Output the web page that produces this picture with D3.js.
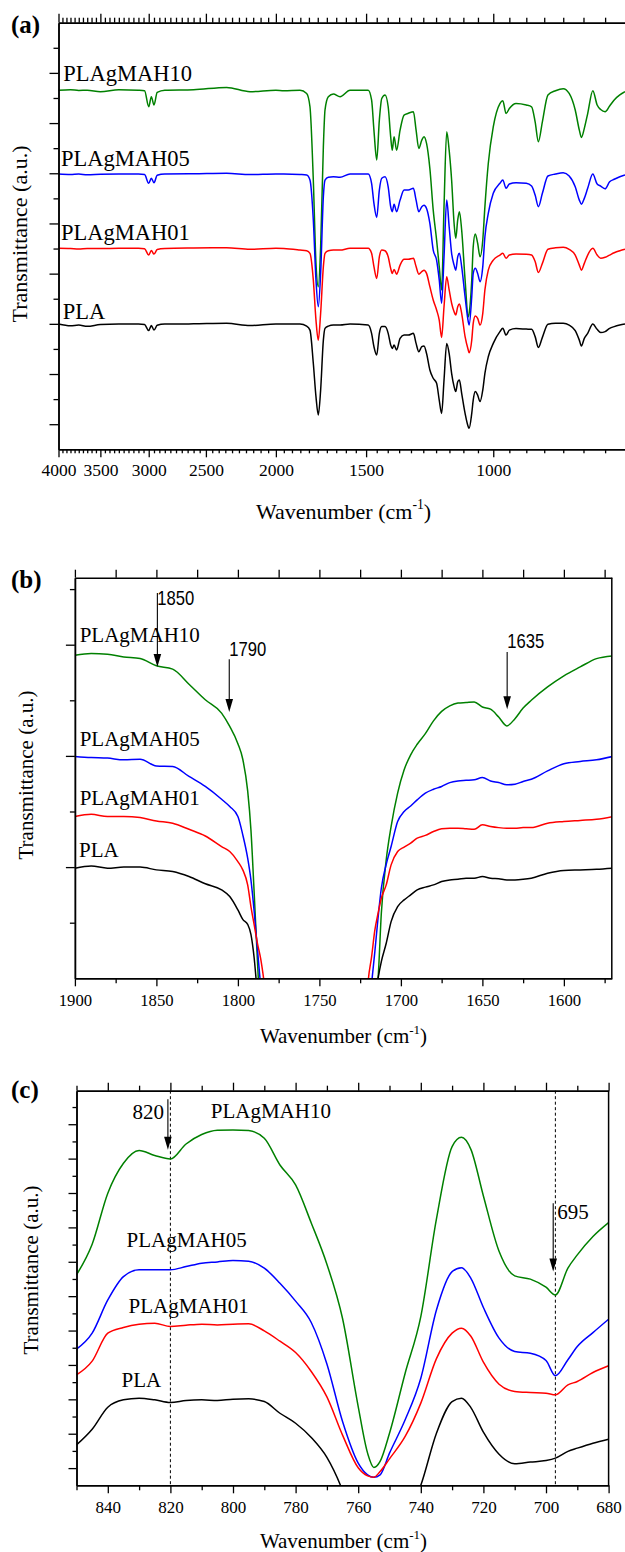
<!DOCTYPE html>
<html><head><meta charset="utf-8">
<script src="https://cdn.jsdelivr.net/npm/d3@7"></script>
<style>body{margin:0;background:#fff} svg{display:block}</style>
</head><body>
<svg id="chart" width="625" height="1552"></svg>
<script>
// ---------------- DATA ----------------
const seriesNames = ["PLAgMAH10", "PLAgMAH05", "PLAgMAH01", "PLA"];
const seriesColors = ["#008000", "#0000ff", "#ff0000", "#000000"];

// Panel (a): full spectrum
const aWavenumber = [4000,3850,3750,3650,3500,3300,3100,3040,3000,2975,2950,2920,2850,2600,2340,2172,2000,1950,
  1852,1813,1794,1775,1760,1747,1734,1719,1710,1692,1665,1630,1579,
  1490,1474,1463,1450,1438,1427,1412,1398,1387,1380,1372,1361,1346,
  1329,1311,1290,1279,1268,1256,1247,1237,1224,1211,1198,1188,1179,1170,1160,1151,1142,1133,1127,1120,1114,1106,1094,1083,1080,1071,1066,1059,1051,1043,1034,1027,1016,1000,979,
  970,960,950,930,900,885,875,866,855,840,820,800,785,770,760,755,748,740,728,718,710,700,690,680,668,657];
const aMAH10 = [14.31,14.33,14.30,14.31,14.25,14.33,14.31,14.29,13.65,14.05,13.72,14.22,14.31,14.33,14.42,14.25,14.31,14.29,
  14.31,14.18,13.65,10.73,7.41,6.48,8.07,12.06,13.52,14.05,14.16,14.05,14.31,
  14.31,13.92,12.72,11.53,13.12,13.98,14.12,13.65,12.46,11.92,12.46,11.92,12.72,
  13.32,13.39,13.45,12.72,11.99,12.32,12.46,12.19,11.19,9.53,8.34,7.28,6.35,9.67,12.65,11.92,10.73,9.00,8.41,9.14,9.47,8.74,6.75,5.28,5.42,6.75,8.07,8.58,8.21,7.67,8.34,9.67,11.39,12.85,13.78,
  13.89,13.38,13.58,13.78,13.72,13.65,13.05,12.26,13.05,14.12,14.29,14.37,14.18,13.52,12.72,12.43,12.79,13.38,14.29,13.72,13.54,13.45,13.68,13.92,14.12,14.25];
const aMAH05 = [10.97,10.95,10.97,10.94,10.96,10.97,10.97,10.95,10.60,10.80,10.62,10.92,10.97,10.98,11.00,10.95,10.97,10.97,
  10.95,10.93,10.73,9.14,6.75,5.68,7.01,10.07,10.73,10.84,10.86,10.84,10.97,
  10.97,10.60,9.80,9.24,10.33,10.80,10.86,10.46,9.67,9.47,9.77,9.47,9.93,
  10.33,10.33,10.40,9.93,9.47,9.67,9.73,9.60,9.00,7.94,7.54,6.75,5.82,7.67,9.93,8.87,7.81,7.34,7.14,7.67,7.81,7.28,6.08,5.09,4.95,6.08,7.01,7.21,7.01,6.68,7.28,8.47,9.40,10.20,10.60,
  10.73,10.40,10.57,10.62,10.60,10.49,10.13,9.67,10.20,10.89,10.97,11.02,10.89,10.46,9.93,9.77,10.00,10.40,10.97,10.57,10.49,10.38,10.66,10.76,10.86,10.93];
const aMAH01 = [8.01,8.00,7.98,8.00,8.00,8.01,8.01,7.99,7.74,7.92,7.78,7.96,8.00,8.02,8.03,7.97,8.01,8.00,
  7.94,7.91,7.81,6.75,5.15,4.35,5.42,7.28,7.81,7.91,7.94,7.94,8.01,
  8.01,7.81,7.28,6.81,7.67,7.94,7.91,7.67,7.21,7.01,7.17,6.98,7.34,
  7.57,7.57,7.61,7.28,6.98,7.08,7.14,7.01,6.48,5.95,5.55,5.15,4.46,5.68,6.88,6.35,5.82,5.48,5.35,5.68,5.79,5.42,4.49,3.96,3.85,4.35,5.02,5.31,5.22,4.95,5.42,6.35,7.14,7.54,7.74,
  7.81,7.61,7.74,7.78,7.77,7.74,7.48,7.05,7.41,7.97,8.03,8.05,7.97,7.74,7.34,7.14,7.41,7.74,8.01,7.74,7.61,7.65,7.74,7.83,7.91,7.97];
const aPLA = [4.99,4.92,4.95,4.90,4.97,4.99,4.99,4.97,4.73,4.93,4.75,4.94,4.99,5.00,5.02,4.93,4.99,4.99,
  4.99,4.91,4.75,3.43,2.10,1.37,2.36,4.35,4.82,4.91,4.95,4.95,4.99,
  4.95,4.62,4.09,3.76,4.62,4.89,4.89,4.62,4.16,4.02,4.16,3.96,4.42,
  4.55,4.55,4.62,4.22,3.89,4.09,4.12,3.82,3.16,2.83,2.63,1.96,1.43,2.76,4.22,3.82,3.03,2.50,2.30,2.69,2.76,2.23,1.43,0.90,0.84,1.43,1.96,2.30,2.16,1.90,2.36,3.03,3.69,4.22,4.69,
  4.82,4.55,4.75,4.81,4.79,4.78,4.49,4.06,4.46,4.98,5.02,5.02,4.95,4.73,4.35,4.12,4.42,4.62,4.99,4.78,4.65,4.69,4.82,4.89,4.95,4.99];
const aXTickLabels = [4000, 3500, 3000, 2500, 2000, 1500, 1000];

// Panel (b): carbonyl region
const bWavenumber = [1900,1890,1880,1870,1860,1850,1840,1830,1820,1810,1805,1800,1797,1794,1792,1790,1788,1786,1784,1775,1750,1725,
  1720,1718,1716,1714,1712,1709,1706,1702,1698,1694,1690,1685,1680,1675,1670,1665,1660,1655,1650,1645,1640,1635,1630,1625,1620,1610,1600,1590,1580,1570];
const bMAH10 = [5.81,5.84,5.83,5.78,5.75,5.62,5.56,5.29,5.01,4.77,4.53,4.22,3.94,3.37,2.67,1.53,0.31,-0.87,-2.0,-4,-6,-3,
  -1.5,-1.0,-0.4,0.0,1.17,2.13,2.73,3.33,3.75,4.02,4.21,4.40,4.63,4.80,4.90,4.95,4.96,4.97,4.88,4.84,4.70,4.54,4.67,4.86,5.00,5.24,5.44,5.60,5.75,5.80];
const bMAH05 = [3.99,3.97,3.96,3.93,3.94,3.82,3.81,3.63,3.45,3.22,3.09,2.91,2.58,2.16,1.77,1.20,0.52,-0.15,-0.8,-3,-6,-3,
  -0.6,-0.1,0.47,1.09,1.62,2.05,2.37,2.82,3.00,3.10,3.21,3.33,3.40,3.45,3.52,3.55,3.56,3.57,3.61,3.55,3.52,3.48,3.49,3.54,3.58,3.73,3.86,3.90,3.93,3.99];
const bMAH01 = [2.91,2.95,2.91,2.91,2.89,2.83,2.79,2.68,2.56,2.37,2.28,2.10,1.95,1.68,1.29,0.96,0.63,0.35,-0.05,-3,-6,-3,
  -0.03,0.38,0.86,1.17,1.44,1.68,2.04,2.28,2.36,2.43,2.52,2.57,2.64,2.69,2.70,2.70,2.69,2.68,2.76,2.73,2.71,2.70,2.70,2.71,2.71,2.79,2.82,2.84,2.86,2.91];
const bPLA = [1.98,2.02,1.98,2.00,2.00,1.95,1.92,1.83,1.70,1.59,1.47,1.23,1.06,0.97,0.79,0.36,-0.3,-0.9,-1.5,-3,-6,-3,
  -1.5,-1.0,-0.4,0.0,0.30,0.63,1.02,1.29,1.41,1.50,1.59,1.64,1.68,1.74,1.77,1.78,1.80,1.80,1.83,1.80,1.79,1.77,1.77,1.78,1.80,1.89,1.94,1.95,1.96,1.98];
const bXTickLabels = [1900, 1850, 1800, 1750, 1700, 1650, 1600];

// Panel (c): 850-680 region
const cWavenumber = [850,845,840,835,830,825,820,815,810,805,800,795,790,785,780,775,770,765,760,757,755,753,750,745,740,735,730,727,724,720,715,710,705,700,697,693,690,685,680];
const cMAH10 = [11.24,13.02,15.99,17.73,18.47,18.18,17.98,18.85,19.40,19.65,19.67,19.63,19.18,17.63,16.47,14.26,11.86,8.70,3.58,0.87,0.04,0.39,2.03,5.52,8.81,14.49,18.70,19.24,18.54,15.83,12.61,11.18,10.99,10.52,10.07,11.63,12.40,13.47,14.28];
const cMAH05 = [6.92,7.85,9.78,11.14,11.53,11.53,11.53,11.72,11.92,11.99,12.07,12.03,11.63,10.75,9.71,8.47,6.06,2.71,0.29,-0.39,-0.53,-0.39,0.87,2.81,5.23,9.20,11.43,11.66,11.04,9.34,7.56,6.78,6.68,6.26,5.37,6.30,7.07,7.88,8.66];
const cMAH01 = [5.42,6.22,7.85,8.18,8.37,8.43,8.23,8.31,8.37,8.33,8.37,8.39,7.98,7.38,6.72,5.62,4.14,1.92,0.02,-0.45,-0.53,-0.20,0.54,1.84,3.78,6.37,7.85,8.14,7.67,6.16,4.88,4.46,4.40,4.36,4.26,4.84,5.04,5.56,5.95];
const cPLA = [1.35,2.26,3.54,3.97,4.07,3.97,3.81,3.93,3.97,3.93,4.01,4.03,3.87,3.19,2.61,1.78,0.62,-1.3,-4,-6,-7,-6,-5,-3,-1.0,2.03,3.87,4.07,3.52,2.09,0.81,0.25,0.35,0.44,0.58,0.97,1.16,1.45,1.68];
const cXTickLabels = [840, 820, 800, 780, 760, 740, 720, 700, 680];

// ---------------- DRAWING ----------------
const SERIF = "'Liberation Serif','Times New Roman',serif";
const NARROW = "'Liberation Sans Narrow','Liberation Sans','Arial',sans-serif";
const svg = d3.select("#chart");

function styleAxis(g, fontSize, labelOffset) {
  g.select(".domain").attr("stroke", "#000").attr("stroke-width", 1.5);
  g.selectAll(".tick line").attr("stroke", "#000").attr("stroke-width", 1.3);
  g.selectAll(".tick text").attr("fill", "#000").style("font-family", SERIF).style("font-size", fontSize + "px");
  if (labelOffset !== undefined) g.selectAll(".tick text").attr("y", labelOffset).attr("dy", 0);
}

function xTitle(x, y, size) {
  const t = svg.append("text").attr("x", x).attr("y", y).attr("text-anchor", "middle")
    .style("font-family", SERIF).style("font-size", size + "px");
  t.append("tspan").text("Wavenumber (cm");
  t.append("tspan").attr("dy", -size * 0.42).style("font-size", (size * 0.62) + "px").text("-1");
  t.append("tspan").attr("dy", size * 0.42).text(")");
}
function yTitle(x, y, size) {
  svg.append("text").attr("transform", `translate(${x},${y}) rotate(-90)`).attr("text-anchor", "middle")
    .style("font-family", SERIF).style("font-size", size + "px").text("Transmittance (a.u.)");
}
function panelLabel(t, x, y) {
  svg.append("text").attr("x", x).attr("y", y).style("font-family", SERIF).style("font-weight", "bold")
    .style("font-size", "25px").text(t);
}
function arrow(x, y1, y2) {
  svg.append("line").attr("x1", x).attr("x2", x).attr("y1", y1).attr("y2", y2 - 10)
    .attr("stroke", "#000").attr("stroke-width", 1.1);
  svg.append("path").attr("d", `M${x - 3.8},${y2 - 13} L${x + 3.8},${y2 - 13} L${x},${y2} Z`).attr("fill", "#000");
}
function drawLines(id, box, x, y, wn, seriesList) {
  svg.append("clipPath").attr("id", id).append("rect")
    .attr("x", box.left).attr("y", box.top).attr("width", box.right - box.left).attr("height", box.bottom - box.top);
  const g = svg.append("g").attr("clip-path", `url(#${id})`);
  const line = d3.line().x(d => x(d[0])).y(d => y(d[1])).curve(d3.curveMonotoneX);
  seriesList.forEach((vals, i) => {
    const pts = wn.map((w, j) => [w, vals[j]]).sort((a, b) => x(a[0]) - x(b[0]));
    g.append("path").attr("d", line(pts)).attr("fill", "none")
      .attr("stroke", seriesColors[i]).attr("stroke-width", 1.5).attr("stroke-linejoin", "round");
  });
}
function seriesLabels(x, y, positions, size) {
  positions.forEach((p, i) => {
    svg.append("text").attr("x", x(p[0])).attr("y", y(p[1]))
      .style("font-family", SERIF).style("font-size", size + "px").attr("fill", "#000").text(seriesNames[i]);
  });
}

// ===== Panel (a) =====
{
  const box = {left: 58.5, right: 625, top: 22.7, bottom: 449.3};
  const x = d3.scaleLog().domain([4000, 657]).range([box.left, box.right]);
  const y = d3.scaleLinear().domain([0, 17]).range([box.bottom, box.top]);
  const minor = d3.range(3950, 650, -50).filter(v => !aXTickLabels.includes(v));
  const yMajor = d3.range(1, 17, 2), yMinor = d3.range(2, 17, 2);

  drawLines("clipA", box, x, y, aWavenumber, [aMAH10, aMAH05, aMAH01, aPLA]);

  let g = svg.append("g").attr("transform", `translate(0,${box.bottom})`)
    .call(d3.axisBottom(x).tickValues(aXTickLabels).tickFormat(d3.format("d")).tickSize(8).tickSizeOuter(0));
  styleAxis(g, 17.5, 26.5);
  g = svg.append("g").attr("transform", `translate(0,${box.bottom})`)
    .call(d3.axisBottom(x).tickValues(minor).tickFormat("").tickSize(4).tickSizeOuter(0));
  styleAxis(g, 17.5);
  g = svg.append("g").attr("transform", `translate(0,${box.top})`)
    .call(d3.axisTop(x).tickValues(aXTickLabels).tickFormat("").tickSize(9).tickSizeOuter(0));
  styleAxis(g, 17.5);
  g = svg.append("g").attr("transform", `translate(0,${box.top})`)
    .call(d3.axisTop(x).tickValues(minor).tickFormat("").tickSize(5).tickSizeOuter(0));
  styleAxis(g, 17.5);
  g = svg.append("g").attr("transform", `translate(${box.left},0)`)
    .call(d3.axisLeft(y).tickValues(yMajor).tickFormat("").tickSize(9).tickSizeOuter(0));
  styleAxis(g, 17.5);
  g = svg.append("g").attr("transform", `translate(${box.left},0)`)
    .call(d3.axisLeft(y).tickValues(yMinor).tickFormat("").tickSize(5).tickSizeOuter(0));
  styleAxis(g, 17.5);

  seriesLabels(x, y, [[3939, 14.67], [3968, 11.30], [3968, 8.34], [3947, 5.18]], 22.5);
  xTitle(343.5, 518.5, 22);
  yTitle(27, 234, 22);
  panelLabel("(a)", 11, 33);
}

// ===== Panel (b) =====
{
  const box = {left: 74.9, right: 611.8, top: 577.7, bottom: 978.3};
  const x = d3.scaleLinear().domain([1900, 1570.6]).range([box.left, box.right]);
  const y = d3.scaleLinear().domain([0, 7.205]).range([box.bottom, box.top]);
  const minor = d3.range(1875, 1570, -50);

  drawLines("clipB", box, x, y, bWavenumber, [bMAH10, bMAH05, bMAH01, bPLA]);

  let g = svg.append("g").attr("transform", `translate(0,${box.bottom})`)
    .call(d3.axisBottom(x).tickValues(bXTickLabels).tickFormat(d3.format("d")).tickSize(8).tickSizeOuter(0));
  styleAxis(g, 16.7, 27.4);
  g = svg.append("g").attr("transform", `translate(0,${box.bottom})`)
    .call(d3.axisBottom(x).tickValues(minor).tickFormat("").tickSize(5).tickSizeOuter(0));
  styleAxis(g, 16.7);
  g = svg.append("g").attr("transform", `translate(0,${box.top})`)
    .call(d3.axisTop(x).tickValues(bXTickLabels.concat(minor)).tickFormat("").tickSize(8).tickSizeOuter(0));
  styleAxis(g, 16.7);
  g = svg.append("g").attr("transform", `translate(${box.left},0)`)
    .call(d3.axisLeft(y).tickValues([2, 4, 6]).tickFormat("").tickSize(9).tickSizeOuter(0));
  styleAxis(g, 16.7);
  g = svg.append("g").attr("transform", `translate(${box.left},0)`)
    .call(d3.axisLeft(y).tickValues([1, 3, 5, 7]).tickFormat("").tickSize(5).tickSizeOuter(0));
  styleAxis(g, 16.7);
  svg.append("line").attr("x1", box.right).attr("x2", box.right).attr("y1", box.top).attr("y2", box.bottom)
    .attr("stroke", "#000").attr("stroke-width", 1.5);

  seriesLabels(x, y, [[1897.1, 6.05], [1897.1, 4.17], [1897.1, 3.12], [1897.5, 2.19]], 21);

  const bAnnotations = [
    {text: "1850", wn: 1849.4, textV: 6.71, top: 6.93, tip: 5.60},
    {text: "1790", wn: 1805.3, textV: 5.80, top: 5.74, tip: 4.79},
    {text: "1635", wn: 1634.8, textV: 5.94, top: 5.87, tip: 4.84}
  ];
  bAnnotations.forEach(a => {
    svg.append("text").attr("x", x(a.wn)).attr("y", y(a.textV))
      .attr("textLength", 37).attr("lengthAdjust", "spacingAndGlyphs")
      .style("font-family", NARROW).style("font-size", "21px").text(a.text);
    arrow(x(a.wn), y(a.top), y(a.tip));
  });

  xTitle(343.5, 1043, 21);
  yTitle(33, 775, 21);
  panelLabel("(b)", 11, 588);
}

// ===== Panel (c) =====
{
  const box = {left: 76.5, right: 608.6, top: 1090.7, bottom: 1485.3};
  const x = d3.scaleLinear().domain([850, 680]).range([box.left, box.right]);
  const y = d3.scaleLinear().domain([-1, 21.95]).range([box.bottom, box.top]);
  const minor = d3.range(850, 680, -20);

  // dashed reference lines
  [820, 697].forEach(w => {
    svg.append("line").attr("x1", x(w)).attr("x2", x(w)).attr("y1", box.top).attr("y2", box.bottom)
      .attr("stroke", "#000").attr("stroke-width", 1).attr("stroke-dasharray", "3,2.5");
  });

  drawLines("clipC", box, x, y, cWavenumber, [cMAH10, cMAH05, cMAH01, cPLA]);

  let g = svg.append("g").attr("transform", `translate(0,${box.bottom})`)
    .call(d3.axisBottom(x).tickValues(cXTickLabels).tickFormat(d3.format("d")).tickSize(8).tickSizeOuter(0));
  styleAxis(g, 17, 27.5);
  g = svg.append("g").attr("transform", `translate(0,${box.bottom})`)
    .call(d3.axisBottom(x).tickValues(minor).tickFormat("").tickSize(5).tickSizeOuter(0));
  styleAxis(g, 17);
  g = svg.append("g").attr("transform", `translate(0,${box.top})`)
    .call(d3.axisTop(x).tickValues(cXTickLabels).tickFormat("").tickSize(8).tickSizeOuter(0));
  styleAxis(g, 17);
  g = svg.append("g").attr("transform", `translate(0,${box.top})`)
    .call(d3.axisTop(x).tickValues(minor).tickFormat("").tickSize(5).tickSizeOuter(0));
  styleAxis(g, 17);
  g = svg.append("g").attr("transform", `translate(${box.left},0)`)
    .call(d3.axisLeft(y).tickValues(d3.range(0, 21, 2)).tickFormat("").tickSize(8).tickSizeOuter(0));
  styleAxis(g, 17);
  g = svg.append("g").attr("transform", `translate(${box.left},0)`)
    .call(d3.axisLeft(y).tickValues(d3.range(1, 22, 2)).tickFormat("").tickSize(4).tickSizeOuter(0));
  styleAxis(g, 17);
  svg.append("line").attr("x1", box.right).attr("x2", box.right).attr("y1", box.top).attr("y2", box.bottom)
    .attr("stroke", "#000").attr("stroke-width", 1.5);

  seriesLabels(x, y, [[807.1, 20.38], [834.0, 12.88], [833.4, 9.05], [835.6, 4.69]], 21);

  const cAnnotations = [
    {text: "820", textWn: 832.1, textV: 20.29, wn: 820.8, top: 21.45, tip: 18.51},
    {text: "695", textWn: 696.4, textV: 14.48, wn: 697.7, top: 15.41, tip: 11.43}
  ];
  cAnnotations.forEach(a => {
    svg.append("text").attr("x", x(a.textWn)).attr("y", y(a.textV))
      .style("font-family", SERIF).style("font-size", "21px").text(a.text);
    arrow(x(a.wn), y(a.top), y(a.tip));
  });

  xTitle(343.5, 1548, 21);
  yTitle(38, 1270, 21);
  panelLabel("(c)", 11, 1098);
}
</script>
</body></html>
